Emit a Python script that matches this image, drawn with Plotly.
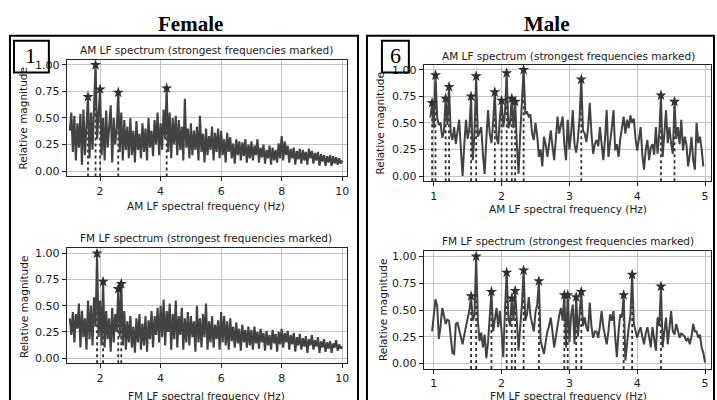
import numpy as np
import plotly.graph_objects as go

# ---------------- DATA ----------------
# Female, AM LF spectrum: bins from 1.00 Hz, step 0.05 Hz
fem_am_start, fem_am_step = 1.00, 0.05
fem_am_mag = [
    0.38, 0.55, 0.18, 0.52, 0.10, 0.45, 0.22, 0.54, 0.06, 0.58, 0.15, 0.40, 0.70, 0.12, 0.55, 0.20, 0.62, 1.00, 0.30, 0.58,
    0.77, 0.15, 0.50, 0.10, 0.57, 0.22, 0.45, 0.62, 0.08, 0.50, 0.25, 0.40, 0.74, 0.18, 0.55, 0.10, 0.48, 0.20, 0.42, 0.12,
    0.50, 0.15, 0.38, 0.08, 0.47, 0.20, 0.35, 0.12, 0.45, 0.18, 0.40, 0.10, 0.50, 0.22, 0.38, 0.14, 0.48, 0.25, 0.55, 0.15,
    0.45, 0.20, 0.58, 0.30, 0.78, 0.18, 0.55, 0.12, 0.50, 0.25, 0.52, 0.15, 0.48, 0.20, 0.42, 0.10, 0.68, 0.22, 0.40, 0.12,
    0.45, 0.15, 0.38, 0.20, 0.42, 0.10, 0.52, 0.18, 0.35, 0.08, 0.40, 0.15, 0.33, 0.20, 0.42, 0.10, 0.36, 0.18, 0.40, 0.12,
    0.38, 0.15, 0.30, 0.08, 0.36, 0.18, 0.32, 0.12, 0.26, 0.07, 0.30, 0.15, 0.28, 0.10, 0.27, 0.14, 0.30, 0.08, 0.25, 0.12,
    0.28, 0.10, 0.24, 0.15, 0.30, 0.08, 0.22, 0.13, 0.25, 0.07, 0.20, 0.12, 0.24, 0.06, 0.22, 0.10, 0.20, 0.08, 0.26, 0.12,
    0.33, 0.10, 0.28, 0.15, 0.24, 0.08, 0.21, 0.12, 0.22, 0.06, 0.19, 0.11, 0.21, 0.07, 0.20, 0.10, 0.18, 0.06, 0.21, 0.12,
    0.19, 0.07, 0.17, 0.10, 0.18, 0.05, 0.16, 0.09, 0.15, 0.05, 0.14, 0.08, 0.15, 0.05, 0.14, 0.07, 0.13, 0.06, 0.12, 0.07, 0.10,
]
fem_am_peak_hz = [1.60, 1.85, 2.00, 2.60, 4.20]
fem_am_peak_mag = [0.70, 1.00, 0.77, 0.74, 0.78]

# Female, FM LF spectrum: bins from 1.00 Hz, step 0.05 Hz
fem_fm_start, fem_fm_step = 1.00, 0.05
fem_fm_mag = [
    0.38, 0.22, 0.44, 0.15, 0.42, 0.28, 0.52, 0.10, 0.45, 0.20, 0.38, 0.08, 0.55, 0.18, 0.50, 0.12, 0.58, 0.30, 1.00, 0.20,
    0.55, 0.12, 0.73, 0.10, 0.45, 0.18, 0.38, 0.06, 0.48, 0.15, 0.42, 0.25, 0.66, 0.20, 0.71, 0.12, 0.45, 0.08, 0.35, 0.15,
    0.40, 0.10, 0.30, 0.05, 0.38, 0.15, 0.42, 0.08, 0.33, 0.12, 0.40, 0.06, 0.36, 0.18, 0.45, 0.10, 0.40, 0.22, 0.48, 0.15,
    0.50, 0.20, 0.56, 0.12, 0.45, 0.25, 0.52, 0.08, 0.42, 0.18, 0.55, 0.10, 0.40, 0.22, 0.48, 0.08, 0.38, 0.15, 0.44, 0.12,
    0.40, 0.20, 0.35, 0.06, 0.50, 0.15, 0.38, 0.10, 0.42, 0.20, 0.52, 0.08, 0.35, 0.15, 0.40, 0.10, 0.32, 0.18, 0.36, 0.08,
    0.44, 0.15, 0.40, 0.12, 0.35, 0.08, 0.38, 0.16, 0.30, 0.10, 0.34, 0.14, 0.28, 0.07, 0.32, 0.15, 0.27, 0.10, 0.30, 0.12,
    0.27, 0.08, 0.30, 0.14, 0.25, 0.09, 0.28, 0.15, 0.24, 0.07, 0.26, 0.12, 0.22, 0.08, 0.27, 0.14, 0.23, 0.06, 0.25, 0.13,
    0.28, 0.10, 0.24, 0.15, 0.26, 0.08, 0.22, 0.13, 0.24, 0.06, 0.20, 0.12, 0.23, 0.08, 0.19, 0.11, 0.21, 0.05, 0.18, 0.12,
    0.22, 0.08, 0.17, 0.11, 0.20, 0.05, 0.16, 0.10, 0.18, 0.06, 0.15, 0.09, 0.16, 0.05, 0.14, 0.10, 0.17, 0.07, 0.13, 0.09, 0.11,
]
fem_fm_peak_hz = [1.90, 2.10, 2.60, 2.70]
fem_fm_peak_mag = [1.00, 0.73, 0.66, 0.71]

# Male, AM LF spectrum: bins from 0.95 Hz, step 0.025 Hz
male_am_start, male_am_step = 0.95, 0.025
male_am_mag = [
    0.55, 0.69, 0.45, 0.95, 0.55, 0.48, 0.50, 0.36, 0.42, 0.73, 0.48, 0.84, 0.40, 0.34, 0.46, 0.30, 0.42, 0.53, 0.25, 0.00,
    0.30, 0.53, 0.35, 0.45, 0.75, 0.15, 0.40, 0.94, 0.37, 0.42, 0.46, 0.20, 0.02, 0.35, 0.62, 0.40, 0.31, 0.50, 0.79, 0.37,
    0.30, 0.55, 0.71, 0.46, 0.60, 0.97, 0.45, 0.50, 0.73, 0.45, 0.70, 0.30, 0.02, 0.40, 0.70, 1.00, 0.59, 0.60, 0.56, 0.58,
    0.40, 0.34, 0.50, 0.38, 0.18, 0.25, 0.09, 0.37, 0.30, 0.18, 0.30, 0.43, 0.28, 0.15, 0.35, 0.56, 0.40, 0.48, 0.56, 0.30,
    0.15, 0.53, 0.25, 0.40, 0.62, 0.30, 0.22, 0.35, 0.55, 0.91, 0.43, 0.40, 0.32, 0.45, 0.69, 0.40, 0.21, 0.30, 0.34, 0.28,
    0.46, 0.30, 0.15, 0.35, 0.62, 0.18, 0.30, 0.45, 0.62, 0.24, 0.30, 0.18, 0.35, 0.45, 0.56, 0.40, 0.53, 0.45, 0.57, 0.50,
    0.54, 0.35, 0.24, 0.35, 0.46, 0.20, 0.06, 0.25, 0.34, 0.15, 0.27, 0.30, 0.20, 0.46, 0.21, 0.40, 0.76, 0.18, 0.45, 0.62,
    0.31, 0.46, 0.30, 0.21, 0.70, 0.35, 0.46, 0.30, 0.53, 0.24, 0.37, 0.30, 0.09, 0.20, 0.37, 0.15, 0.06, 0.50, 0.31, 0.37,
    0.25, 0.09,
]
male_am_peak_hz = [0.975, 1.025, 1.175, 1.225, 1.55, 1.625, 1.90, 2.00, 2.075, 2.15, 2.20, 2.325, 3.175, 4.35, 4.55]
male_am_peak_mag = [0.69, 0.95, 0.73, 0.84, 0.75, 0.94, 0.79, 0.71, 0.97, 0.73, 0.70, 1.00, 0.91, 0.76, 0.70]

# Male, FM LF spectrum: bins from 0.975 Hz, step 0.025 Hz
male_fm_start, male_fm_step = 0.975, 0.025
male_fm_mag = [
    0.30, 0.45, 0.60, 0.54, 0.23, 0.35, 0.52, 0.45, 0.37, 0.41, 0.40, 0.25, 0.10, 0.09, 0.37, 0.38, 0.32, 0.25, 0.18, 0.27,
    0.35, 0.44, 0.50, 0.63, 0.40, 0.45, 1.00, 0.40, 0.21, 0.29, 0.15, 0.27, 0.05, 0.20, 0.40, 0.67, 0.30, 0.42, 0.52, 0.34,
    0.49, 0.30, 0.06, 0.50, 0.85, 0.43, 0.35, 0.61, 0.40, 0.68, 0.37, 0.12, 0.35, 0.55, 0.87, 0.40, 0.46, 0.62, 0.45, 0.37,
    0.30, 0.48, 0.55, 0.77, 0.21, 0.15, 0.09, 0.20, 0.30, 0.35, 0.43, 0.30, 0.15, 0.25, 0.37, 0.45, 0.52, 0.40, 0.64, 0.15,
    0.64, 0.20, 0.45, 0.55, 0.18, 0.62, 0.25, 0.50, 0.67, 0.35, 0.43, 0.34, 0.30, 0.57, 0.35, 0.24, 0.30, 0.30, 0.24, 0.35,
    0.49, 0.34, 0.25, 0.18, 0.30, 0.46, 0.40, 0.49, 0.25, 0.06, 0.30, 0.46, 0.43, 0.64, 0.03, 0.20, 0.34, 0.45, 0.83, 0.37,
    0.30, 0.24, 0.30, 0.34, 0.25, 0.18, 0.28, 0.34, 0.25, 0.15, 0.34, 0.20, 0.12, 0.43, 0.35, 0.72, 0.15, 0.30, 0.43, 0.18,
    0.35, 0.49, 0.30, 0.27, 0.37, 0.30, 0.24, 0.28, 0.27, 0.25, 0.21, 0.24, 0.18, 0.25, 0.37, 0.30, 0.30, 0.24, 0.27, 0.15,
    0.10, 0.01,
]
male_fm_peak_hz = [1.55, 1.625, 1.85, 2.075, 2.15, 2.20, 2.325, 2.55, 2.925, 2.975, 3.10, 3.175, 3.80, 3.925, 4.35]
male_fm_peak_mag = [0.63, 1.00, 0.67, 0.85, 0.61, 0.68, 0.87, 0.77, 0.64, 0.64, 0.62, 0.67, 0.64, 0.83, 0.72]

y_ticks = [0, 0.25, 0.5, 0.75, 1.0]
fem_x_ticks = [2, 4, 6, 8, 10]
male_x_ticks = [1, 2, 3, 4, 5]

# ---------------- FIGURE ----------------
W, H = 717, 400
LINE_C = "#424242"
MARK_C = "#303030"
TXT_C = "#1a1a1a"
SANS = "DejaVu Sans"
SERIF = "Liberation Serif"
Y_LO, Y_HI = -0.05, 1.05

def px(x):
    return x / W

def py(y):
    return 1 - y / H

fig = go.Figure()

panels = [
    ("", fem_am_start, fem_am_step, fem_am_mag, fem_am_peak_hz, fem_am_peak_mag, 2.1),
    ("2", fem_fm_start, fem_fm_step, fem_fm_mag, fem_fm_peak_hz, fem_fm_peak_mag, 2.1),
    ("3", male_am_start, male_am_step, male_am_mag, male_am_peak_hz, male_am_peak_mag, 2.0),
    ("4", male_fm_start, male_fm_step, male_fm_mag, male_fm_peak_hz, male_fm_peak_mag, 2.0),
]

for sfx, start, step, mag, pk_hz, pk_mag, lw in panels:
    freq = start + step * np.arange(len(mag))
    xa, ya = "x" + sfx, "y" + sfx
    vx, vy = [], []
    for f, m in zip(pk_hz, pk_mag):
        vx += [f, f, None]
        vy += [Y_LO, m, None]
    fig.add_trace(go.Scatter(x=vx, y=vy, mode="lines", xaxis=xa, yaxis=ya,
                             line=dict(color=MARK_C, width=1.8, dash="dot"),
                             hoverinfo="skip", showlegend=False))
    fig.add_trace(go.Scatter(x=freq, y=mag, mode="lines", xaxis=xa, yaxis=ya,
                             line=dict(color=LINE_C, width=lw),
                             showlegend=False))
    fig.add_trace(go.Scatter(x=pk_hz, y=pk_mag, mode="markers", xaxis=xa, yaxis=ya,
                             marker=dict(symbol="star", size=8.5, color=MARK_C),
                             showlegend=False))

def xax(domain, rng, ticks, anchor):
    return dict(domain=domain, range=rng, tickvals=ticks, anchor=anchor,
                showgrid=True, gridcolor="#c4c4c4", gridwidth=1, zeroline=False,
                showline=True, mirror=True, linecolor="#222", linewidth=1.2,
                ticks="outside", ticklen=4, tickcolor="#222", tickwidth=1,
                tickfont=dict(family=SANS, size=11, color=TXT_C))

def yax(domain, anchor):
    return dict(domain=domain, range=[Y_LO, Y_HI], tickvals=y_ticks, tickformat=".2f",
                anchor=anchor, showgrid=True, gridcolor="#c4c4c4", gridwidth=1,
                zeroline=False, showline=True, mirror=True, linecolor="#222",
                linewidth=1.2, ticks="outside", ticklen=4, tickcolor="#222", tickwidth=1,
                tickfont=dict(family=SANS, size=11, color=TXT_C))

fx = [px(67), px(348)]
mx = [px(425), px(713)]
fig.update_layout(
    width=W, height=H, margin=dict(l=0, r=0, t=0, b=0),
    paper_bgcolor="white", plot_bgcolor="white", showlegend=False,
    xaxis=xax(fx, [0.9, 10.16], fem_x_ticks, "y"),
    yaxis=yax([py(176.7), py(59)], "x"),
    xaxis2=xax(fx, [0.9, 10.16], fem_x_ticks, "y2"),
    yaxis2=yax([py(365), py(249)], "x2"),
    xaxis3=xax(mx, [0.853, 5.088], male_x_ticks, "y3"),
    yaxis3=yax([py(181.7), py(64)], "x3"),
    xaxis4=xax(mx, [0.853, 5.088], male_x_ticks, "y4"),
    yaxis4=yax([py(370.7), py(252)], "x4"),
)

ann = []
def text(t, x, y, size, family=SANS, angle=0, bold=False):
    ann.append(dict(text=("<b>%s</b>" % t) if bold else t, x=px(x), y=py(y),
                    xref="paper", yref="paper", xanchor="center", yanchor="middle",
                    showarrow=False, textangle=angle,
                    font=dict(family=family, size=size, color="#000" if family == SERIF else TXT_C)))

text("Female", 191, 23, 21, SERIF, bold=True)
text("Male", 548, 23, 21, SERIF, bold=True)
text("1", 31, 55, 22, SERIF)
text("6", 396.5, 55, 22, SERIF)

text("AM LF spectrum (strongest frequencies marked)", 207, 49.5, 10.5)
text("FM LF spectrum (strongest frequencies marked)", 207, 239, 10.5)
text("AM LF spectrum (strongest frequencies marked)", 570, 55, 10.5)
text("FM LF spectrum (strongest frequencies marked)", 570, 241.5, 10.5)

text("AM LF spectral frequency (Hz)", 207, 207, 10.5)
text("FM LF spectral frequency (Hz)", 207, 397.5, 10.5)
text("AM LF spectral frequency (Hz)", 570, 209.5, 10.5)
text("FM LF spectral frequency (Hz)", 570, 397.5, 10.5)

text("Relative magnitude", 23.5, 118, 10.5, angle=-90)
text("Relative magnitude", 23.5, 308, 10.5, angle=-90)
text("Relative magnitude", 381.5, 123, 10.5, angle=-90)
text("Relative magnitude", 383.5, 311, 10.5, angle=-90)

fig.update_layout(annotations=ann)

def rect(x0, y0, x1, y1, w):
    return dict(type="rect", xref="paper", yref="paper", x0=px(x0), x1=px(x1),
                y0=py(y1), y1=py(y0), line=dict(color="#000", width=w),
                fillcolor="rgba(0,0,0,0)", layer="above")

fig.update_layout(shapes=[
    rect(10, 35, 359, 404, 2),
    rect(368, 35, 716, 404, 2),
    rect(14, 40, 49, 72, 2),
    rect(383, 40, 410, 72, 2),
])

fig.write_html("out.html")
